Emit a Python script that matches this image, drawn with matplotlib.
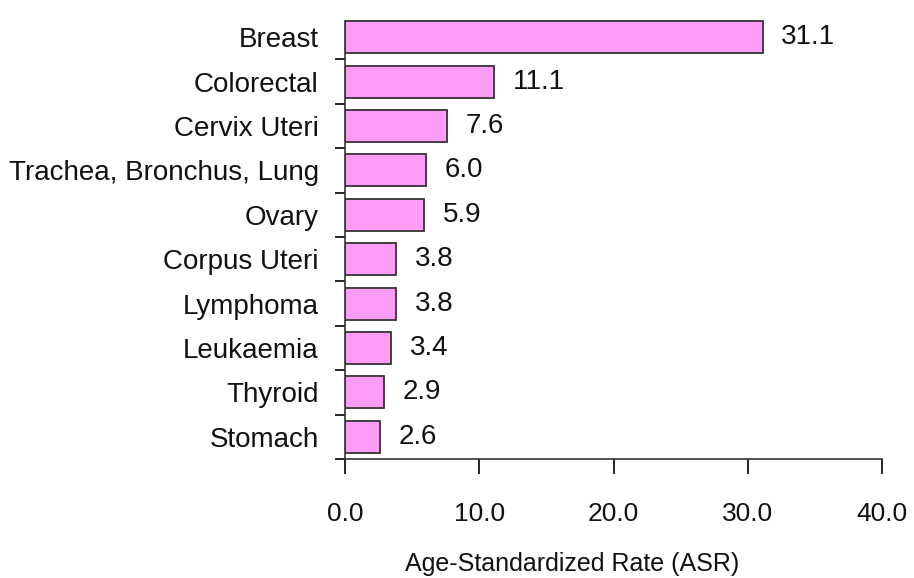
import numpy as np
import matplotlib.pyplot as plt

sites = ['Breast', 'Colorectal', 'Cervix Uteri', 'Trachea, Bronchus, Lung', 'Ovary',
         'Corpus Uteri', 'Lymphoma', 'Leukaemia', 'Thyroid', 'Stomach']
asr = [31.1, 11.1, 7.6, 6.0, 5.9, 3.8, 3.8, 3.4, 2.9, 2.6]
xticks = [0, 10, 20, 30, 40]

plt.rcParams['font.family'] = ['Liberation Sans', 'DejaVu Sans']

fig = plt.figure(figsize=(9.14, 5.78), dpi=100)
ax = fig.add_axes([0.3775, 0.206, 0.5875, 0.768])

y = np.arange(len(sites))
ax.barh(y, asr, height=0.72, color='#FF9CF7', edgecolor='#333333', linewidth=1.3)
for yi, v in zip(y, asr):
    ax.text(v + 1.4, yi, f'{v:.1f}', va='center', ha='left', fontsize=20, color='#111111')

ax.set_ylim(len(sites) - 0.5, -0.5)
ax.set_xlim(0, 40)
ax.set_yticks(y)
ax.set_yticklabels(sites, fontsize=20, color='#111111')
ax.tick_params(axis='y', length=0, pad=19)
ax.set_yticks(np.arange(1, len(sites) + 1) - 0.5, minor=True)
ax.tick_params(axis='y', which='minor', length=7, width=1.2, direction='out')

ax.set_xticks(xticks)
ax.set_xticklabels([f'{t:.1f}' for t in xticks], fontsize=19, color='#111111')
ax.tick_params(axis='x', length=11, width=1.2, direction='out', pad=20)
ax.set_xlabel('Age-Standardized Rate (ASR)', fontsize=18, color='#111111', va='center')
ax.xaxis.set_label_coords(0.423, -0.236)

for s in ['top', 'right']:
    ax.spines[s].set_visible(False)
for s in ['left', 'bottom']:
    ax.spines[s].set_linewidth(1.2)
    ax.spines[s].set_color('#333333')
ax.spines['left'].set_bounds(len(sites) - 0.5, -0.36)

fig.savefig('out.png', dpi=100, facecolor='white')
